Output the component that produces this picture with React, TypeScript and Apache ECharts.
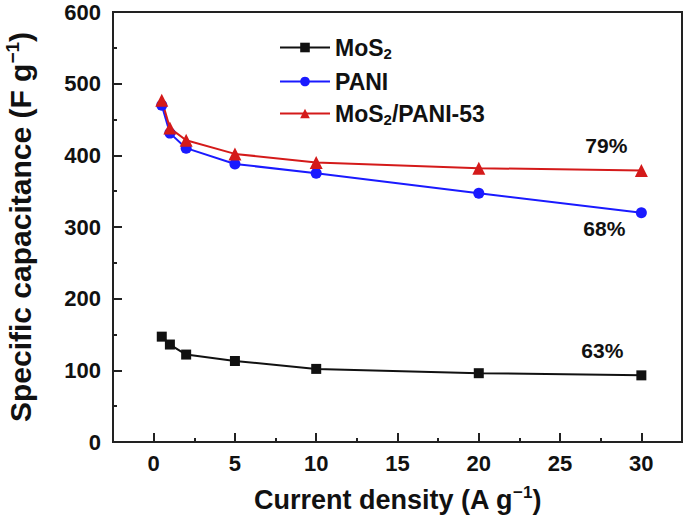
import React, { useEffect, useRef } from "react";
import * as echarts from "echarts";

const xValues = [0.5, 1, 2, 5, 10, 20, 30];
const mos2 = [147, 136, 122, 113, 102, 96, 93];
const pani = [470, 431, 410, 388, 375, 347, 320];
const composite = [477, 438, 421, 402, 390, 382, 379];
const seriesNames = ["MoS2", "PANI", "MoS2/PANI-53"];
const retention = ["63%", "68%", "79%"];
const majorXTicks = [0, 5, 10, 15, 20, 25, 30];
const minorXTicks = [2.5, 7.5, 12.5, 17.5, 22.5, 27.5];

const FONT = "Liberation Sans, Arial, sans-serif";

function buildData(vals: number[], label?: any) {
  return vals.map((v, i) => {
    const item: any = { value: [xValues[i], v] };
    if (label && i === vals.length - 1) item.label = label;
    return item;
  });
}

export default function App() {
  const ref = useRef<HTMLDivElement>(null);
  useEffect(() => {
    if (!ref.current) return;
    const chart = echarts.init(ref.current, null, { renderer: "svg" });
    const labelStyle = {
      show: true,
      fontSize: 21,
      fontWeight: "bold",
      fontFamily: FONT,
      color: "#111",
    };
    const legendNames: Record<string, string> = {
      MoS2: "{a|MoS}{b|2}",
      PANI: "{a|PANI}",
      "MoS2/PANI-53": "{a|MoS}{b|2}{a|/PANI-53}",
    };
    chart.setOption({
      animation: false,
      backgroundColor: "#fff",
      grid: {
        left: 113,
        right: 3,
        top: 12,
        bottom: 81,
        containLabel: false,
        outerBoundsMode: "none",
        show: true,
        borderColor: "#222",
        borderWidth: 2,
        backgroundColor: "transparent",
      },
      legend: {
        orient: "vertical",
        left: 274,
        top: 31,
        itemWidth: 50,
        itemHeight: 12,
        itemGap: 9,
        data: seriesNames,
        formatter: (n: string) => legendNames[n],
        textStyle: {
          fontFamily: FONT,
          rich: {
            a: { fontSize: 23, fontWeight: "bold", color: "#111", fontFamily: FONT },
            b: {
              fontSize: 15,
              fontWeight: "bold",
              color: "#111",
              fontFamily: FONT,
              padding: [12, 0, 0, 0],
            },
          },
        },
      },
      xAxis: [
        {
          type: "value",
          min: -2.5,
          max: 32.5,
          splitLine: { show: false },
          axisLine: { show: true, onZero: false, lineStyle: { color: "#222", width: 2 } },
          axisTick: {
            show: true,
            inside: true,
            length: 9,
            lineStyle: { color: "#222", width: 2 },
            customValues: majorXTicks,
          },
          axisLabel: {
            customValues: majorXTicks,
            fontSize: 22,
            fontWeight: "bold",
            fontFamily: FONT,
            color: "#111",
            margin: 10,
          },
          name: "{t|Current density (A g}{s|−1}{t|)}",
          nameLocation: "middle",
          nameGap: 42,
          nameTextStyle: {
            rich: {
              t: { fontSize: 27, fontWeight: "bold", fontFamily: FONT, color: "#111" },
              s: {
                fontSize: 17,
                fontWeight: "bold",
                fontFamily: FONT,
                color: "#111",
                padding: [0, 0, 14, 0],
              },
            },
          },
        },
        {
          type: "value",
          min: -2.5,
          max: 32.5,
          position: "bottom",
          splitLine: { show: false },
          axisLine: { show: false, onZero: false },
          axisLabel: { show: false },
          axisTick: {
            show: true,
            inside: true,
            length: 4,
            lineStyle: { color: "#222", width: 2 },
            customValues: minorXTicks,
          },
        },
      ],
      yAxis: {
        type: "value",
        min: 0,
        max: 600,
        interval: 100,
        splitLine: { show: false },
        axisLine: { show: true, onZero: false, lineStyle: { color: "#222", width: 2 } },
        axisTick: { show: true, inside: true, length: 9, lineStyle: { color: "#222", width: 2 } },
        minorTick: { show: true, splitNumber: 2, length: 4, lineStyle: { color: "#222", width: 2 } },
        axisLabel: {
          fontSize: 22,
          fontWeight: "bold",
          fontFamily: FONT,
          color: "#111",
          margin: 12,
        },
        name: "{t|Specific capacitance (F g}{s|−1}{t|)}",
        nameLocation: "middle",
        nameRotate: 90,
        nameGap: 75,
        nameTextStyle: {
          rich: {
            t: { fontSize: 30, fontWeight: "bold", fontFamily: FONT, color: "#111" },
            s: {
              fontSize: 19,
              fontWeight: "bold",
              fontFamily: FONT,
              color: "#111",
              padding: [0, 0, 16, 0],
            },
          },
        },
      },
      series: [
        {
          name: seriesNames[0],
          type: "line",
          xAxisIndex: 0,
          data: buildData(mos2, {
            ...labelStyle,
            formatter: retention[0],
            position: "top",
            offset: [-39, -4],
          }),
          symbol: "rect",
          symbolSize: 10,
          lineStyle: { color: "#111", width: 2 },
          itemStyle: { color: "#111" },
        },
        {
          name: seriesNames[1],
          type: "line",
          xAxisIndex: 0,
          data: buildData(pani, {
            ...labelStyle,
            formatter: retention[1],
            position: "bottom",
            offset: [-37, -5],
          }),
          symbol: "circle",
          symbolSize: 11,
          lineStyle: { color: "#1a1aff", width: 2 },
          itemStyle: { color: "#1a1aff" },
        },
        {
          name: seriesNames[2],
          type: "line",
          xAxisIndex: 0,
          data: buildData(composite, {
            ...labelStyle,
            formatter: retention[2],
            position: "top",
            offset: [-35, -3],
          }),
          symbol: "triangle",
          symbolSize: 13,
          lineStyle: { color: "#d41a1a", width: 2 },
          itemStyle: { color: "#d41a1a" },
        },
      ],
    });
    return () => chart.dispose();
  }, []);
  return (
    <div
      ref={ref}
      style={{ position: "absolute", left: 0, top: 0, width: 685, height: 523 }}
    />
  );
}
